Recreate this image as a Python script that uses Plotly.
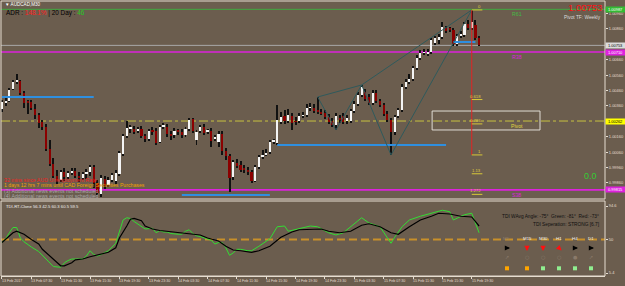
import plotly.graph_objects as go

# ---------------- data ----------------
opens = [1.00340, 1.00379, 1.00392, 1.00470, 1.00516, 1.00522, 1.00444, 1.00386, 1.00386, 1.00340,
         1.00301, 1.00256, 1.00224, 1.00081, 0.99983, 0.99905, 0.99880, 0.99931, 0.99899, 0.99925,
         0.99938, 0.99905, 0.99892, 0.99918, 0.99931, 0.99964, 0.99860, 0.99789, 0.99886, 0.99847,
         0.99880, 0.99873, 0.99918, 1.00048, 1.00165, 1.00211, 1.00211, 1.00198, 1.00211, 1.00165,
         1.00146, 1.00198, 1.00198, 1.00126, 1.00224, 1.00224, 1.00178, 1.00172, 1.00198, 1.00191,
         1.00172, 1.00211, 1.00275, 1.00139, 1.00198, 1.00224, 1.00191, 1.00198, 1.00146, 1.00126,
         1.00178, 1.00068, 1.00035, 0.99899, 0.99990, 0.99977, 0.99957, 0.99944, 0.99931, 0.99873,
         0.99964, 1.00029, 1.00042, 1.00061, 1.00126, 1.00120, 1.00256, 1.00295, 1.00262, 1.00295,
         1.00262, 1.00262, 1.00295, 1.00301, 1.00347, 1.00347, 1.00334, 1.00321, 1.00314, 1.00288,
         1.00262, 1.00237, 1.00282, 1.00295, 1.00262, 1.00262, 1.00327, 1.00373, 1.00431, 1.00451,
         1.00418, 1.00379, 1.00444, 1.00392, 1.00366, 1.00308, 1.00269, 1.00191, 1.00295, 1.00334,
         1.00483, 1.00516, 1.00535, 1.00606, 1.00671, 1.00704, 1.00697, 1.00710, 1.00769, 1.00788,
         1.00808, 1.00866, 1.00860, 1.00853, 1.00762, 1.00814, 1.00821, 1.00892, 1.00866, 1.00886,
         1.00801]
closes = [1.00386, 1.00392, 1.00464, 1.00516, 1.00522, 1.00444, 1.00379, 1.00379, 1.00347, 1.00301,
          1.00249, 1.00224, 1.00081, 0.99983, 0.99905, 0.99880, 0.99931, 0.99899, 0.99925, 0.99938,
          0.99905, 0.99892, 0.99918, 0.99931, 0.99964, 0.99860, 0.99795, 0.99892, 0.99840, 0.99880,
          0.99912, 0.99925, 1.00055, 1.00165, 1.00217, 1.00217, 1.00191, 1.00204, 1.00165, 1.00146,
          1.00198, 1.00191, 1.00120, 1.00224, 1.00230, 1.00178, 1.00165, 1.00198, 1.00191, 1.00172,
          1.00211, 1.00269, 1.00198, 1.00191, 1.00224, 1.00185, 1.00198, 1.00133, 1.00152, 1.00178,
          1.00068, 1.00035, 0.99892, 0.99996, 0.99970, 0.99944, 0.99944, 0.99931, 0.99873, 0.99964,
          1.00029, 1.00042, 1.00055, 1.00126, 1.00133, 1.00269, 1.00288, 1.00262, 1.00301, 1.00249,
          1.00256, 1.00295, 1.00301, 1.00347, 1.00353, 1.00327, 1.00321, 1.00314, 1.00288, 1.00256,
          1.00237, 1.00295, 1.00269, 1.00256, 1.00282, 1.00327, 1.00373, 1.00431, 1.00483, 1.00405,
          1.00379, 1.00444, 1.00392, 1.00366, 1.00308, 1.00269, 1.00191, 1.00288, 1.00334, 1.00483,
          1.00516, 1.00535, 1.00606, 1.00671, 1.00704, 1.00710, 1.00710, 1.00788, 1.00801, 1.00808,
          1.00873, 1.00847, 1.00853, 1.00762, 1.00814, 1.00821, 1.00892, 1.00866, 1.00905, 1.00801,
          1.00753]
highs = [1.00399, 1.00418, 1.00477, 1.00529, 1.00568, 1.00529, 1.00457, 1.00399, 1.00399, 1.00373,
         1.00314, 1.00269, 1.00243, 1.00139, 1.00022, 0.99944, 0.99944, 0.99957, 0.99938, 0.99957,
         0.99957, 0.99931, 0.99931, 0.99951, 0.99977, 0.99977, 0.99880, 0.99912, 0.99905, 0.99899,
         0.99925, 0.99944, 1.00068, 1.00178, 1.00262, 1.00237, 1.00230, 1.00224, 1.00230, 1.00178,
         1.00211, 1.00224, 1.00217, 1.00237, 1.00249, 1.00243, 1.00198, 1.00217, 1.00211, 1.00211,
         1.00224, 1.00282, 1.00282, 1.00204, 1.00237, 1.00243, 1.00211, 1.00217, 1.00172, 1.00198,
         1.00198, 1.00087, 1.00048, 1.00009, 1.00016, 1.00003, 0.99977, 0.99964, 0.99944, 0.99977,
         1.00042, 1.00074, 1.00081, 1.00139, 1.00146, 1.00366, 1.00321, 1.00334, 1.00340, 1.00314,
         1.00288, 1.00314, 1.00321, 1.00373, 1.00379, 1.00373, 1.00418, 1.00340, 1.00334, 1.00308,
         1.00282, 1.00314, 1.00301, 1.00314, 1.00301, 1.00340, 1.00392, 1.00451, 1.00496, 1.00470,
         1.00438, 1.00464, 1.00464, 1.00405, 1.00379, 1.00327, 1.00282, 1.00301, 1.00347, 1.00503,
         1.00535, 1.00568, 1.00619, 1.00691, 1.00723, 1.00730, 1.00730, 1.00801, 1.00814, 1.00827,
         1.00905, 1.00879, 1.00873, 1.00866, 1.00827, 1.00847, 1.00905, 1.00918, 1.00983, 1.00918,
         1.00814]
lows = [1.00321, 1.00360, 1.00386, 1.00464, 1.00503, 1.00431, 1.00347, 1.00308, 1.00334, 1.00275,
        1.00217, 1.00204, 1.00068, 0.99970, 0.99892, 0.99853, 0.99866, 0.99873, 0.99886, 0.99912,
        0.99892, 0.99866, 0.99880, 0.99886, 0.99905, 0.99827, 0.99782, 0.99769, 0.99821, 0.99834,
        0.99866, 0.99853, 0.99905, 1.00035, 1.00152, 1.00185, 1.00178, 1.00185, 1.00152, 1.00126,
        1.00133, 1.00172, 1.00107, 1.00120, 1.00211, 1.00159, 1.00139, 1.00152, 1.00172, 1.00152,
        1.00159, 1.00198, 1.00185, 1.00107, 1.00185, 1.00172, 1.00178, 1.00094, 1.00133, 1.00094,
        1.00042, 1.00009, 0.99802, 0.99880, 0.99957, 0.99931, 0.99925, 0.99912, 0.99860, 0.99866,
        0.99951, 1.00016, 1.00035, 1.00048, 1.00113, 1.00107, 1.00243, 1.00243, 1.00249, 1.00204,
        1.00237, 1.00249, 1.00282, 1.00288, 1.00327, 1.00314, 1.00308, 1.00301, 1.00275, 1.00243,
        1.00224, 1.00204, 1.00249, 1.00243, 1.00243, 1.00249, 1.00314, 1.00360, 1.00418, 1.00392,
        1.00366, 1.00366, 1.00379, 1.00353, 1.00295, 1.00256, 1.00042, 1.00172, 1.00282, 1.00321,
        1.00470, 1.00503, 1.00522, 1.00594, 1.00658, 1.00691, 1.00684, 1.00697, 1.00756, 1.00762,
        1.00795, 1.00834, 1.00840, 1.00749, 1.00749, 1.00801, 1.00808, 1.00853, 1.00853, 1.00788,
        1.00749]
bars = list(range(len(opens)))

time_label_bars = [0, 8, 16, 24, 32, 40, 48, 56, 64, 72, 80, 88, 96, 104, 112, 120, 128]
time_labels = ["13 Feb 2017", "13 Feb 07:30", "13 Feb 11:30", "13 Feb 15:30", "13 Feb 19:30",
               "13 Feb 23:30", "14 Feb 03:30", "14 Feb 07:30", "14 Feb 11:30", "14 Feb 15:30",
               "14 Feb 19:30", "14 Feb 23:30", "15 Feb 03:30", "15 Feb 07:30", "15 Feb 11:30",
               "15 Feb 15:30", "15 Feb 19:30"]
price_ticks = [0.99860, 0.99960, 1.00060, 1.00160, 1.00260, 1.00360, 1.00460,
               1.00560, 1.00660, 1.00760, 1.00860, 1.00960]

bid = 1.00753
pivot_names = ["R61", "R38", "Pivot", "S38"]
pivot_values = [1.00987, 1.00710, 1.00262, 0.99815]

sr_prices = [1.00418, 1.00107, 0.99782, 1.00775]
sr_start = [0, 75, 49, 123]
sr_end = [25, 121, 73, 129]

fib_ratios = [0, 0.618, 0.786, 1, 1.13, 1.272]
fib_texts = ["0", "0.618", "0.786", "1", "1.13", "1.272"]
pattern_bars = [86, 91, 98, 106, 128]          # X A B C D
pattern_side = ["H", "L", "H", "L", "H"]
pattern_links = [(0, 1), (1, 2), (0, 2), (2, 3), (3, 4), (2, 4)]

tdi_green_bars = [0, 1, 2, 3, 4, 5, 6, 7, 8, 10, 11, 13, 14, 16, 17, 18, 19, 20, 22, 23, 24, 25, 26, 27,
                  28, 29, 31, 32, 33, 34, 35, 36, 38, 39, 41, 42, 43, 44, 45, 46, 48, 49, 50, 51, 52,
                  53, 54, 55, 57, 58, 59, 60, 61, 62, 63, 64, 65, 67, 68, 70, 73, 75, 77, 78, 81, 84,
                  86, 89, 91, 93, 97, 98, 100, 103, 106, 107, 109, 111, 114, 118, 120, 122, 123, 126,
                  128, 129, 130]
tdi_green = [46, 51, 59, 66, 66, 52, 47, 43, 40, 34, 29, 19, 14, 13, 19, 22, 24, 24, 24, 28, 35, 30, 28,
             30, 32, 35, 45, 62, 76, 79, 78, 74, 67, 64, 65, 59, 62, 60, 60, 58, 57, 57, 61, 63, 58,
             55, 54, 52, 49, 44, 46, 46, 39, 29, 32, 37, 37, 35, 35, 41, 51, 67, 68, 61, 64, 68, 67,
             59, 56, 59, 75, 79, 72, 67, 45, 53, 67, 76, 81, 87, 89, 87, 76, 83, 85, 72, 59]
tdi_signal_bars = [0, 1, 3, 4, 6, 8, 10, 11, 13, 15, 16, 17, 19, 20, 22, 24, 26, 28, 29, 31, 32, 34, 35,
                   36, 38, 39, 41, 43, 45, 47, 49, 50, 52, 54, 56, 58, 59, 61, 63, 65, 68, 70, 73, 76,
                   79, 81, 84, 87, 89, 92, 95, 98, 100, 103, 106, 108, 111, 114, 117, 119, 122, 125,
                   128, 130]
tdi_signal = [46, 50, 59, 61, 57, 50, 44, 37, 28, 19, 15, 15, 19, 23, 24, 27, 29, 32, 33, 39, 52, 68, 77,
              78, 75, 68, 64, 62, 61, 60, 58, 58, 57, 56, 52, 50, 48, 41, 36, 35, 33, 35, 41, 53, 60,
              63, 64, 64, 61, 59, 61, 69, 71, 67, 59, 57, 67, 76, 81, 85, 84, 81, 80, 68]
tdi_mid = 50
tdi_ticks = [5.4, 50, 94.6]

tf_names = ["M5", "M15", "M30", "H1", "H4", "D1"]
tf_trend = ["flat", "down", "down", "downright", "flat", "flat"]
tf_state = ["orange", "orange", "green", "green", "green", "green"]

# ---------------- geometry / style ----------------
W, H = 625, 286
ML, MR, MT, MB = 1, 20, 1, 10
PW, PH = W - ML - MR, H - MT - MB
BG = "#6b5d4e"
AXC = "#e6ddd0"
FONT = "Liberation Sans"
BAR_PX = 3.67
XR = [-0.27, -0.27 + PW / BAR_PX]


def fx(px):
    return (px - ML) / PW


def fy(py):
    return (MT + PH - py) / PH


MAIN_DOM = [fy(199), 1]
IND_DOM = [0, fy(201)]
YR = [0.99756, 1.01041]
Y2R = [1.4, 101.3]

fig = go.Figure()

# candles: wicks then bodies
fig.add_trace(go.Bar(x=bars, y=[h - l for h, l in zip(highs, lows)], base=lows, width=0.27,
                     marker=dict(color="#111111", line=dict(width=0)), hoverinfo="skip",
                     xaxis="x", yaxis="y"))
body_base = [min(o, c) for o, c in zip(opens, closes)]
body_h = [max(abs(c - o), 0.00004) for o, c in zip(opens, closes)]
body_col = ["#f4f4f4" if c >= o else "#8b0000" for o, c in zip(opens, closes)]
fig.add_trace(go.Bar(x=bars, y=body_h, base=body_base, width=0.6,
                     marker=dict(color=body_col, line=dict(width=0)), hoverinfo="skip",
                     xaxis="x", yaxis="y"))

# TDI lines
fig.add_trace(go.Scatter(x=tdi_green_bars, y=tdi_green, mode="lines",
                         line=dict(color="#33dd33", width=1), xaxis="x2", yaxis="y2", hoverinfo="skip"))
fig.add_trace(go.Scatter(x=tdi_signal_bars, y=tdi_signal, mode="lines",
                         line=dict(color="#000000", width=1.2), xaxis="x2", yaxis="y2", hoverinfo="skip"))

shapes = []
anns = []

# frames
shapes.append(dict(type="rect", xref="paper", yref="paper", x0=0, x1=1, y0=MAIN_DOM[0], y1=1,
                   line=dict(color=AXC, width=1), layer="above"))
shapes.append(dict(type="rect", xref="paper", yref="paper", x0=0, x1=1, y0=0, y1=IND_DOM[1],
                   line=dict(color=AXC, width=1), layer="above"))

# pivot lines
piv_style = {"R61": ("#3faa3f", 1, "solid"), "R38": ("#dd22dd", 1.6, "solid"),
             "Pivot": ("#c8c040", 1, "dashdot"), "S38": ("#dd22dd", 1.6, "solid")}
piv_label_col = {"R61": "#44bb44", "R38": "#dd22dd", "Pivot": "#e0d840", "S38": "#dd22dd"}
for n, v in zip(pivot_names, pivot_values):
    c, w, d = piv_style[n]
    shapes.append(dict(type="line", xref="paper", yref="y", x0=0, x1=1, y0=v, y1=v,
                       line=dict(color=c, width=w, dash=d), layer="below"))
    anns.append(dict(xref="x", yref="y", x=140.3, y=v, text=n, showarrow=False, xanchor="center",
                     yanchor="top", yshift=0, font=dict(family=FONT, size=5.2, color=piv_label_col[n])))
# bid line
shapes.append(dict(type="line", xref="paper", yref="y", x0=0, x1=1, y0=bid, y1=bid,
                   line=dict(color="#a8a8a8", width=1), layer="below"))

# pivot box
pv = pivot_values[2]
shapes.append(dict(type="rect", xref="x", yref="y", x0=117.2, x1=146.6, y0=pv - 0.00058, y1=pv + 0.00065,
                   line=dict(color="#e0dcd4", width=1)))

# support / resistance segments
for p, s, e in zip(sr_prices, sr_start, sr_end):
    shapes.append(dict(type="line", xref="x", yref="y", x0=s, x1=e, y0=p, y1=p,
                       line=dict(color="#2e8fe0", width=2)))

# harmonic pattern
pts = [(b, highs[b] if sd == "H" else lows[b]) for b, sd in zip(pattern_bars, pattern_side)]
for a, b in pattern_links:
    shapes.append(dict(type="line", xref="x", yref="y", x0=pts[a][0], y0=pts[a][1],
                       x1=pts[b][0], y1=pts[b][1], line=dict(color="#2f5a5c", width=1)))

# fibonacci
fhi, flo = pts[4][1], pts[3][1]
fx_bar = pts[4][0]
shapes.append(dict(type="line", xref="x", yref="y", x0=fx_bar, x1=fx_bar, y0=flo, y1=fhi,
                   line=dict(color="#e02424", width=1)))
for r, t in zip(fib_ratios, fib_texts):
    lv = fhi - r * (fhi - flo)
    shapes.append(dict(type="line", xref="x", yref="y", x0=fx_bar, x1=fx_bar + 2.9, y0=lv, y1=lv,
                       line=dict(color="#d8c838", width=1)))
    anns.append(dict(xref="x", yref="y", x=fx_bar + 2.9, y=lv, text=t, showarrow=False,
                     xanchor="right", yanchor="bottom", borderpad=0,
                     font=dict(family=FONT, size=4.2, color="#e0d040")))

# right-axis boxes
boxes = [(pivot_values[0], "#33bb33", "#ffffff"), (bid, "#dcdcdc", "#000000"),
         (pivot_values[1], "#dd22dd", "#ffffff"), (pivot_values[2], "#ffff00", "#000000"),
         (pivot_values[3], "#dd22dd", "#ffffff")]
for v, bg, fc in boxes:
    anns.append(dict(xref="paper", yref="y", x=1, y=v, text=f"{v:.5f}", showarrow=False,
                     xanchor="left", yanchor="middle", bgcolor=bg, borderpad=0, width=19, height=5,
                     font=dict(family=FONT, size=4, color=fc)))

# header texts
anns.append(dict(xref="paper", yref="paper", x=fx(3), y=fy(5), text="▼ AUDCAD,M30", showarrow=False,
                 xanchor="left", yanchor="middle", font=dict(family=FONT, size=4.6, color="#ffffff")))
anns.append(dict(xref="paper", yref="paper", x=fx(4), y=fy(13),
                 text="ADR : <span style='color:#ff2020'>148.1%</span> | 20 Day : "
                      "<span style='color:#22cc22'>46</span>",
                 showarrow=False, xanchor="left", yanchor="middle",
                 font=dict(family=FONT, size=6.4, color="#000000")))
anns.append(dict(xref="paper", yref="paper", x=fx(604), y=fy(7.5), text=f"{bid:.5f}", showarrow=False,
                 xanchor="right", yanchor="middle", font=dict(family=FONT, size=9.5, color="#ff1010")))
anns.append(dict(xref="paper", yref="paper", x=fx(603), y=fy(17), text="Pivot TF: Weekly",
                 showarrow=False, xanchor="right", yanchor="middle",
                 font=dict(family=FONT, size=4.8, color="#dcdcdc")))
anns.append(dict(xref="paper", yref="paper", x=fx(590), y=fy(176), text="0.0", showarrow=False,
                 xanchor="center", yanchor="middle", font=dict(family=FONT, size=9, color="#33cc33")))

# news texts
news = [("32 mins since AUD Unemployment Rate", "#ee2222", 179.5),
        ("1 days 12 hrs 7 mins until CAD Foreign Securities Purchases", "#f0a000", 185),
        ("(3) Additional news events not scheduled", "#a6a6a6", 190.5),
        ("(4) Additional news events not scheduled", "#a6a6a6", 196)]
for t, c, yy in news:
    anns.append(dict(xref="paper", yref="paper", x=fx(3), y=fy(yy), text=t, showarrow=False,
                     xanchor="left", yanchor="middle", borderpad=0,
                     font=dict(family=FONT, size=5.2, color=c)))

# TDI texts
anns.append(dict(xref="paper", yref="paper", x=fx(4), y=fy(207), text="TDI-RT-Clone 56.3 42.5 60.3 60.5 59.5",
                 showarrow=False, xanchor="left", yanchor="middle",
                 font=dict(family=FONT, size=4.2, color="#f0f0f0")))
anns.append(dict(xref="paper", yref="paper", x=fx(601), y=fy(216.5),
                 text="TDI WAvg Angle: -75°  Green: -81°  Red: -73°", showarrow=False,
                 xanchor="right", yanchor="middle", font=dict(family=FONT, size=4.8, color="#101010")))
anns.append(dict(xref="paper", yref="paper", x=fx(601), y=fy(224),
                 text="TDI Seperation: STRONG [6.7]", showarrow=False,
                 xanchor="right", yanchor="middle", font=dict(family=FONT, size=4.8, color="#101010")))

tf_x = [507, 527, 543, 559, 575, 591]
for i, (nm, tr, st) in enumerate(zip(tf_names, tf_trend, tf_state)):
    xp = tf_x[i]
    anns.append(dict(xref="paper", yref="paper", x=fx(xp), y=fy(238), text=nm, showarrow=False,
                     xanchor="center", yanchor="middle",
                     font=dict(family=FONT, size=4.4, color="#8c7c6c" if i == 0 else "#f0f0f0")))
    if tr == "flat":
        anns.append(dict(xref="paper", yref="paper", x=fx(xp + 3), y=fy(248), ax=-6, ay=0, text="",
                         showarrow=True, arrowhead=2, arrowsize=0.8, arrowwidth=1.3, arrowcolor="#000000"))
    elif tr == "down":
        anns.append(dict(xref="paper", yref="paper", x=fx(xp), y=fy(251), ax=0, ay=-6, text="",
                         showarrow=True, arrowhead=2, arrowsize=0.8, arrowwidth=1.3, arrowcolor="#ff1010"))
    else:
        anns.append(dict(xref="paper", yref="paper", x=fx(xp + 2.5), y=fy(250.5), ax=-5, ay=-5, text="",
                         showarrow=True, arrowhead=2, arrowsize=0.8, arrowwidth=1.3, arrowcolor="#ff1010"))
    glyph = "○" if i in (1, 2, 3) else ("●" if i == 4 else "↗")
    anns.append(dict(xref="paper", yref="paper", x=fx(xp), y=fy(257), text=glyph, showarrow=False,
                     xanchor="center", yanchor="middle",
                     font=dict(family="DejaVu Sans", size=5, color="#8a7a6a")))
    col = "#ffa500" if st == "orange" else "#90ee90"
    shapes.append(dict(type="rect", xref="paper", yref="paper", x0=fx(xp - 2), x1=fx(xp + 2),
                       y0=fy(270.3), y1=fy(266.3), fillcolor=col, line=dict(width=0)))

# TDI mid dashed line
shapes.append(dict(type="line", xref="paper", yref="y2", x0=0, x1=1, y0=tdi_mid, y1=tdi_mid,
                   line=dict(color="#c8902a", width=2, dash="8px,4px"), layer="below"))

# time labels
for b, t in zip(time_label_bars, time_labels):
    anns.append(dict(xref="x2", yref="paper", x=b, y=fy(280.5), text=t, showarrow=False,
                     xanchor="left", yanchor="middle", borderpad=0, xshift=-1,
                     font=dict(family=FONT, size=3.6, color=AXC)))

fig.update_layout(
    width=W, height=H, margin=dict(l=ML, r=MR, t=MT, b=MB, pad=0),
    paper_bgcolor=BG, plot_bgcolor=BG, showlegend=False, barmode="overlay",
    bargap=0,
    xaxis=dict(domain=[0, 1], range=XR, anchor="y", showgrid=False, zeroline=False,
               showticklabels=False, ticks="", fixedrange=True),
    yaxis=dict(domain=MAIN_DOM, range=YR, side="right", anchor="x", tickvals=price_ticks,
               ticktext=[f"{v:.5f}" for v in price_ticks], ticks="outside", ticklen=2,
               tickcolor=AXC, tickfont=dict(family=FONT, size=4, color=AXC),
               showgrid=False, zeroline=False, fixedrange=True),
    xaxis2=dict(domain=[0, 1], range=XR, anchor="y2", showgrid=False, zeroline=False,
                showline=True, linecolor=AXC, linewidth=1, ticks="outside", ticklen=2,
                tickcolor=AXC, tickvals=time_label_bars, showticklabels=False, fixedrange=True),
    yaxis2=dict(domain=IND_DOM, range=Y2R, side="right", anchor="x2", tickvals=tdi_ticks,
                ticktext=["5.4", "50", "94.6"], ticks="outside", ticklen=2, tickcolor=AXC,
                tickfont=dict(family=FONT, size=4, color=AXC), showgrid=False, zeroline=False,
                fixedrange=True),
    shapes=shapes, annotations=anns,
)

fig.write_html("out.html")
